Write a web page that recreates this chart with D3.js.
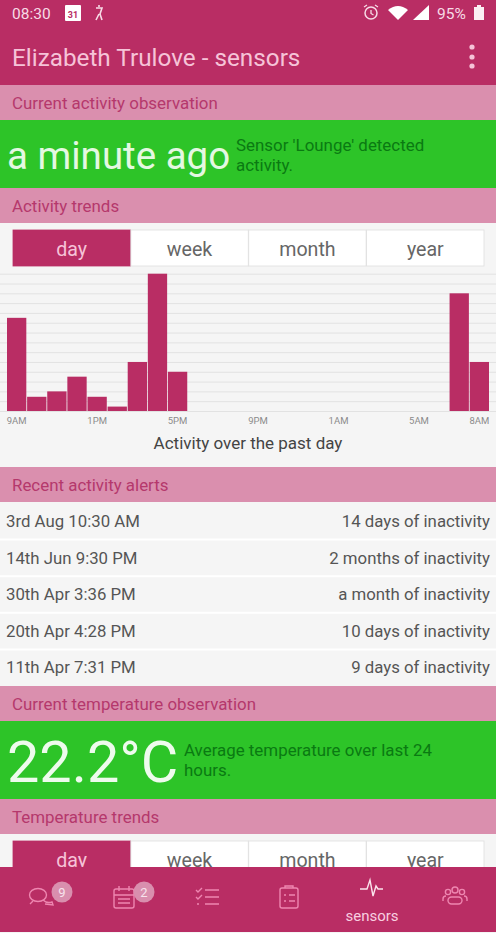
<!DOCTYPE html>
<html>
<head>
<meta charset="utf-8">
<script src="https://cdn.jsdelivr.net/npm/d3@7"></script>
<style>
  html, body { margin: 0; padding: 0; background: #f5f5f5; }
  svg { display: block; }
  text { font-family: Roboto, sans-serif; }
</style>
</head>
<body>
<div id="chart"></div>
<script>
// activity per hour
const hours = ["9AM","10AM","11AM","12PM","1PM","2PM","3PM","4PM","5PM","6PM","7PM","8PM","9PM","10PM","11PM","12AM","1AM","2AM","3AM","4AM","5AM","6AM","7AM","8AM"];
const activity = [9.5,1.45,2,3.5,1.45,0.45,5,14,4,0,0,0,0,0,0,0,0,0,0,0,0,0,12,5];
const hourTicks = ["9AM","1PM","5PM","9PM","1AM","5AM","8AM"];
const gridValues = [0,1,2,3,4,5,6,7,8,9,10,11,12,13,14];

const ranges = ["day","week","month","year"];
const alertDates = ["3rd Aug 10:30 AM","14th Jun 9:30 PM","30th Apr 3:36 PM","20th Apr 4:28 PM","11th Apr 7:31 PM"];
const alertTexts = ["14 days of inactivity","2 months of inactivity","a month of inactivity","10 days of inactivity","9 days of inactivity"];
const badges = ["9","2"];

const dark = "#b92d64", pink = "#da8fae", green = "#2dc428";

const svg = d3.select("#chart").append("svg").attr("width", 496).attr("height", 933);
svg.append("rect").attr("width", 496).attr("height", 933).attr("fill", "#f5f5f5");

function band(y, h, fill) {
  svg.append("rect").attr("x", 0).attr("y", y).attr("width", 496).attr("height", h).attr("fill", fill);
}
function label(x, y, str, size, fill, anchor) {
  return svg.append("text").attr("x", x).attr("y", y).attr("font-size", size)
    .attr("fill", fill).attr("text-anchor", anchor || "start").text(str);
}
function sectionHeader(y, str) {
  band(y, 35, pink);
  label(12, y + 24, str, 16.9, "#b5386c");
}
function rangeButtons(y) {
  const x = d3.scaleBand().domain(ranges).range([13, 484]).paddingInner(0.004);
  svg.selectAll(null).data(ranges).join("rect")
    .attr("x", d => x(d)).attr("y", y).attr("width", x.bandwidth()).attr("height", 36)
    .attr("fill", (d, i) => i === 0 ? dark : "#fff")
    .attr("stroke", (d, i) => i === 0 ? dark : "#dedede").attr("stroke-width", 0.8);
  svg.selectAll(null).data(ranges).join("text")
    .attr("x", d => x(d) + x.bandwidth() / 2).attr("y", y + 26)
    .attr("text-anchor", "middle").attr("font-size", 19.6)
    .attr("fill", (d, i) => i === 0 ? "#f6c3d8" : "#666").text(d => d);
}

// top bars
band(0, 85, dark);
label(12, 19, "08:30", 15.5, "#f7dbe6");
label(12, 66, "Elizabeth Trulove - sensors", 24.3, "#f6c3d8");
label(437, 19, "95%", 15.5, "#f7dbe6");

// status icons
svg.append("rect").attr("x", 65).attr("y", 5).attr("width", 16).attr("height", 16).attr("rx", 1).attr("fill", "#fff");
label(73, 18, "31", 9, dark, "middle").attr("font-weight", 700);
svg.append("path").attr("d", "M99 5 v2 M96 8 h6 l-2 6 l2 6 M99 14 l-3 6").attr("fill", "none").attr("stroke", "#f7dbe6").attr("stroke-width", 1.6);
svg.append("circle").attr("cx", 371).attr("cy", 13).attr("r", 6).attr("fill", "none").attr("stroke", "#f7dbe6").attr("stroke-width", 1.5);
svg.append("path").attr("d", "M371 10 v3.5 l2.5 1.5 M364 7 l3 -2 M378 7 l-3 -2").attr("fill", "none").attr("stroke", "#f7dbe6").attr("stroke-width", 1.3);
svg.append("path").attr("d", "M388 10 Q398 2 408 10 L398 20 Z").attr("fill", "#fff");
svg.append("path").attr("d", "M429 5 V20 H413 Z").attr("fill", "#fff");
svg.append("rect").attr("x", 474).attr("y", 7).attr("width", 10).attr("height", 13).attr("fill", "#fbeef3");
svg.append("rect").attr("x", 477).attr("y", 5).attr("width", 4).attr("height", 2).attr("fill", "#fbeef3");
svg.selectAll(null).data([47, 57, 66]).join("circle")
  .attr("cx", 472).attr("cy", d => d).attr("r", 2.6).attr("fill", "#f6c3d8");

// current activity
sectionHeader(85, "Current activity observation");
band(120, 68, green);
label(7, 169, "a minute ago", 38.5, "#e4f8e2");
label(236, 151, "Sensor 'Lounge' detected", 16.9, "#0a7a12");
label(236, 171, "activity.", 16.9, "#0a7a12");

// activity trends
sectionHeader(188, "Activity trends");
rangeButtons(230);

const x = d3.scaleBand().domain(hours).range([7, 489]).paddingInner(0.04).paddingOuter(0);
const y = d3.scaleLinear().domain([0, 14]).range([411, 273.7]);

const grid = svg.append("g").attr("transform", "translate(496,0)")
  .call(d3.axisRight(y).tickValues(gridValues).tickSize(-496).tickFormat(""));
grid.select(".domain").remove();
grid.selectAll("line").attr("stroke", "#e2e2e2").attr("stroke-width", 1);

svg.append("g").selectAll("rect").data(activity).join("rect")
  .attr("x", (d, i) => x(hours[i]))
  .attr("y", d => y(d))
  .attr("width", x.bandwidth())
  .attr("height", d => y(0) - y(d))
  .attr("fill", dark);

const xAxis = svg.append("g").attr("transform", "translate(0,411)")
  .call(d3.axisBottom(x).tickValues(hourTicks).tickSize(0).tickPadding(6));
xAxis.select(".domain").remove();
xAxis.selectAll("text").attr("font-family", "Roboto, sans-serif").attr("font-size", 9.5).attr("fill", "#8b8b8b");

label(248, 449, "Activity over the past day", 17, "#444", "middle");

// recent alerts
sectionHeader(467, "Recent activity alerts");
const rowY = d3.scaleBand().domain(alertDates).range([503, 686]);
svg.selectAll(null).data(alertDates.slice(1)).join("line")
  .attr("x1", 0).attr("x2", 496).attr("y1", d => rowY(d)).attr("y2", d => rowY(d))
  .attr("stroke", "#fff").attr("stroke-width", 2);
svg.selectAll(null).data(alertDates).join("text")
  .attr("x", 6).attr("y", d => rowY(d) + 24).attr("font-size", 16.8).attr("fill", "#555").text(d => d);
svg.selectAll(null).data(alertTexts).join("text")
  .attr("x", 490).attr("y", (d, i) => rowY(alertDates[i]) + 24).attr("text-anchor", "end")
  .attr("font-size", 16.8).attr("fill", "#555").text(d => d);

// current temperature
sectionHeader(686, "Current temperature observation");
band(721, 78, green);
label(7, 782, "22.2°C", 57.6, "#eefbed");
label(184, 756, "Average temperature over last 24", 16.9, "#0a7a12");
label(184, 776, "hours.", 16.9, "#0a7a12");

// temperature trends, clipped by the nav bar
sectionHeader(799, "Temperature trends");
rangeButtons(841);

// bottom nav
band(867, 65, dark);
band(932, 1, "#f5f5f5");
const navIcon = svg.append("g").attr("fill", "none").attr("stroke", "#ee86b0").attr("stroke-width", 1.4);
navIcon.append("ellipse").attr("cx", 38).attr("cy", 895).attr("rx", 8.5).attr("ry", 6.5);
navIcon.append("path").attr("d", "M33 901 l-3 3 M43 900 c3 3 6 3 9 2 l1 3 l-8 -1");
navIcon.append("rect").attr("x", 114).attr("y", 889).attr("width", 20).attr("height", 19).attr("rx", 2);
navIcon.append("path").attr("d", "M114 895 h20 M119 886 v5 M129 886 v5 M118 899 h12 M118 903 h12");
navIcon.append("path").attr("d", "M196 890 l2 2 l4 -4 M196 897 l2 2 l4 -4 M205 890 h14 M205 897 h14 M205 904 h14 M197 904 h2");
navIcon.append("rect").attr("x", 280).attr("y", 888).attr("width", 18).attr("height", 20).attr("rx", 2);
navIcon.append("path").attr("d", "M285 888 v-2 h8 v2 M284 895 h2 M289 895 h6 M284 901 h2 M289 901 h6");
svg.append("path").attr("d", "M360 889 h7 l3 -9 l3 16 l3 -10 l2 3 h5").attr("fill", "none").attr("stroke", "#fbe3ec").attr("stroke-width", 1.4);
label(372, 921, "sensors", 15, "#f8cfe0", "middle");
navIcon.append("circle").attr("cx", 448).attr("cy", 892).attr("r", 2.6);
navIcon.append("circle").attr("cx", 455).attr("cy", 890).attr("r", 3);
navIcon.append("circle").attr("cx", 462).attr("cy", 892).attr("r", 2.6);
navIcon.append("rect").attr("x", 448).attr("y", 897).attr("width", 14).attr("height", 7).attr("rx", 3.5);
navIcon.append("path").attr("d", "M443 901 v-2 q0 -3 3 -3 M467 901 v-2 q0 -3 -3 -3");

// badges
const badgeX = d3.scalePoint().domain(badges).range([62, 144]);
svg.selectAll(null).data(badges).join("circle")
  .attr("cx", d => badgeX(d)).attr("cy", 892).attr("r", 10.5).attr("fill", "#d98fae");
svg.selectAll(null).data(badges).join("text")
  .attr("x", d => badgeX(d)).attr("y", 897).attr("text-anchor", "middle").attr("font-size", 13)
  .attr("fill", "#f7e3ec").text(d => d);
</script>
</body>
</html>
